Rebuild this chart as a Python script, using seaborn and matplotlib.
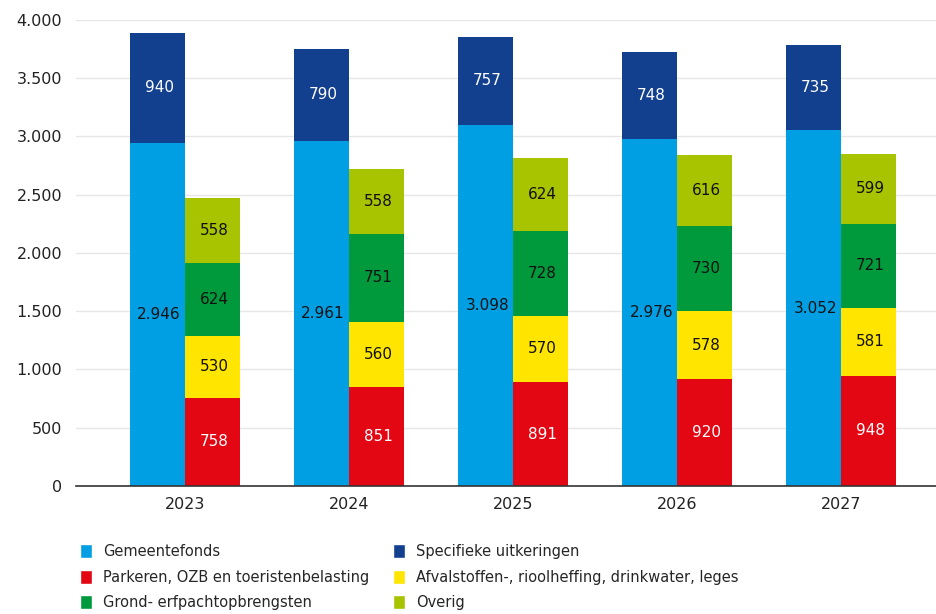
import numpy as np
import pandas as pd
import seaborn as sns
import matplotlib.pyplot as plt
from matplotlib.patches import Patch

# Data (x 1 mln euro)
years = ['2023', '2024', '2025', '2026', '2027']
gemeentefonds = [2946, 2961, 3098, 2976, 3052]
specifieke = [940, 790, 757, 748, 735]
parkeren = [758, 851, 891, 920, 948]
afval = [530, 560, 570, 578, 581]
grond = [624, 751, 728, 730, 721]
overig = [558, 558, 624, 616, 599]

colors = {
    'Gemeentefonds': '#009fe3',
    'Specifieke uitkeringen': '#133f8f',
    'Parkeren, OZB en toeristenbelasting': '#e30613',
    'Afvalstoffen-, rioolheffing, drinkwater, leges': '#ffe500',
    'Grond- erfpachtopbrengsten': '#009a3d',
    'Overig': '#a8c300',
}
text_colors = {
    'Gemeentefonds': '#111111',
    'Specifieke uitkeringen': 'white',
    'Parkeren, OZB en toeristenbelasting': 'white',
    'Afvalstoffen-, rioolheffing, drinkwater, leges': '#111111',
    'Grond- erfpachtopbrengsten': '#111111',
    'Overig': '#111111',
}

sns.set_theme(style='whitegrid')
plt.rcParams['font.family'] = ['DejaVu Sans']

fig = plt.figure(figsize=(9.37, 6.14), dpi=100)
ax = fig.add_axes([0.081, 0.2085, 0.919, 0.759])

pos = np.arange(len(years))
w = 0.335
left_x = pos - w / 2
right_x = pos + w / 2

stacks = [
    (left_x, [('Gemeentefonds', gemeentefonds), ('Specifieke uitkeringen', specifieke)]),
    (right_x, [('Parkeren, OZB en toeristenbelasting', parkeren),
               ('Afvalstoffen-, rioolheffing, drinkwater, leges', afval),
               ('Grond- erfpachtopbrengsten', grond),
               ('Overig', overig)]),
]

def fmt(v):
    return f'{v:,}'.replace(',', '.')

for xs, segs in stacks:
    cums = np.cumsum([s[1] for s in segs], axis=0)
    # draw tallest first so lower segments sit on top
    for (name, vals), cum in reversed(list(zip(segs, cums))):
        df = pd.DataFrame({'x': xs, 'y': cum})
        sns.barplot(data=df, x='x', y='y', native_scale=True, width=w,
                    color=colors[name], saturation=1, errorbar=None,
                    linewidth=0, ax=ax)
    for (name, vals), cum in zip(segs, cums):
        for x, v, c in zip(xs, vals, cum):
            ax.text(x + 0.01, c - v / 2, fmt(v), ha='center', va='center',
                    fontsize=11, color=text_colors[name])

ax.set_xlim(-0.665, 4.585)
ax.set_ylim(0, 4000)
ax.set_yticks(range(0, 4001, 500))
ax.set_yticklabels([fmt(v) for v in range(0, 4001, 500)])
ax.set_xticks(pos)
ax.set_xticklabels(years)
ax.set_xlabel('')
ax.set_ylabel('')
ax.tick_params(axis='both', labelsize=11.5, colors='#222222', length=0)
ax.tick_params(axis='y', pad=10)
ax.tick_params(axis='x', pad=8)
ax.grid(axis='x', visible=False)
ax.grid(axis='y', color='#e6e6e6', linewidth=1)
for s in ['left', 'right', 'top']:
    ax.spines[s].set_visible(False)
ax.spines['bottom'].set_color('#333333')
ax.spines['bottom'].set_linewidth(1.2)
ax.set_axisbelow(True)

order = ['Gemeentefonds', 'Parkeren, OZB en toeristenbelasting', 'Grond- erfpachtopbrengsten',
         'Specifieke uitkeringen', 'Afvalstoffen-, rioolheffing, drinkwater, leges', 'Overig']
handles = [Patch(facecolor=colors[n], label=n) for n in order]
fig.legend(handles=handles, ncol=2, loc='upper left', bbox_to_anchor=(0.0854, 0.114),
           frameon=False, fontsize=10.5, handlelength=0.82, handleheight=1.1,
           handletextpad=0.75, columnspacing=1.65, labelspacing=0.72,
           borderaxespad=0, borderpad=0)

fig.savefig('out.png', dpi=100)
